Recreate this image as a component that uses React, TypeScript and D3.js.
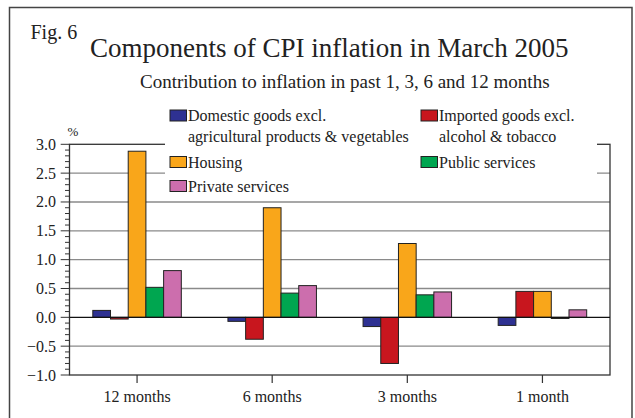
import React from "react";
import * as d3 from "d3";

const categories = ["12 months", "6 months", "3 months", "1 month"];
const seriesNames = [
  "Domestic goods excl. agricultural products & vegetables",
  "Imported goods excl. alcohol & tobacco",
  "Housing",
  "Public services",
  "Private services",
];
const domestic = [0.12, -0.07, -0.16, -0.14];
const imported = [-0.03, -0.38, -0.8, 0.45];
const housing = [2.88, 1.9, 1.28, 0.45];
const publicServices = [0.52, 0.42, 0.39, -0.02];
const privateServices = [0.81, 0.55, 0.44, 0.13];
const seriesColors = ["#2e3192", "#c8161e", "#f9a61a", "#00a650", "#cc6ead"];
const yTicks = [-1.0, -0.5, 0.0, 0.5, 1.0, 1.5, 2.0, 2.5, 3.0];

const series = [domestic, imported, housing, publicServices, privateServices];

const FONT = "'Liberation Serif', 'Times New Roman', serif";

export default function App() {
  const W = 635, H = 418;
  const left = 69.5, right = 610, top = 144.3, bottom = 375;
  const x = d3.scaleBand<string>().domain(categories).range([left, right]).padding(0);
  const y = d3.scaleLinear().domain([-1, 3]).range([bottom, top]);
  const inner = d3
    .scaleBand<number>()
    .domain(d3.range(series.length))
    .range([0, x.bandwidth() * 0.655]);
  const groupOffset = (x.bandwidth() - x.bandwidth() * 0.655) / 2;
  const minorTicks = d3.range(-10, 31).map((v) => v / 10);

  const legendItems = [
    { i: 0, sx: 170, ty: 121, lines: ["Domestic goods excl.", "agricultural products & vegetables"] },
    { i: 1, sx: 421, ty: 121, lines: ["Imported goods excl.", "alcohol & tobacco"] },
    { i: 2, sx: 170, ty: 167.5, lines: ["Housing"] },
    { i: 3, sx: 421, ty: 167.5, lines: ["Public services"] },
    { i: 4, sx: 170, ty: 191.5, lines: ["Private services"] },
  ];

  return (
    <svg width={W} height={H} style={{ position: "absolute", left: 0, top: 0, background: "#fff" }} fontFamily={FONT}>
      <rect x={0} y={0} width={W} height={H} fill="#fff" />
      {/* outer frame */}
      <path d={`M9.5,${H + 5} V7.5 H632 V${H + 5}`} fill="none" stroke="#444" strokeWidth={1.5} />
      <text x={30.5} y={39} fontSize={20} fill="#222">Fig. 6</text>
      <text x={90} y={57} fontSize={27} fill="#222">Components of CPI inflation in March 2005</text>
      <text x={140} y={87.5} fontSize={19} fill="#222">Contribution to inflation in past 1, 3, 6 and 12 months</text>

      {/* gridlines */}
      {yTicks.filter((t) => t !== 0 && t !== -1 && t !== 3).map((t) => (
        <line key={t} x1={left} x2={right} y1={y(t)} y2={y(t)} stroke="#8a8a8a" strokeWidth={1.3} />
      ))}
      {/* plot border */}
      <rect x={left} y={top} width={right - left} height={bottom - top} fill="none" stroke="#333" strokeWidth={1.3} />

      {/* legend background */}
      <rect x={165} y={100} width={597 - 165} height={96} fill="#fff" />

      {/* bars */}
      {categories.map((c, ci) => (
        <g key={c}>
          {series.map((s, si) => {
            const v = s[ci];
            const bx = (x(c) as number) + groupOffset + (inner(si) as number);
            const y0 = y(0), y1 = y(v);
            return (
              <rect
                key={si}
                x={bx}
                y={Math.min(y0, y1)}
                width={inner.bandwidth()}
                height={Math.max(Math.abs(y1 - y0), 1)}
                fill={seriesColors[si]}
                stroke="#222"
                strokeWidth={1}
              />
            );
          })}
        </g>
      ))}
      {/* zero line */}
      <line x1={left} x2={right} y1={y(0)} y2={y(0)} stroke="#111" strokeWidth={1.3} />

      {/* y axis ticks */}
      {minorTicks.map((t) => {
        const major = Math.abs(t * 2 - Math.round(t * 2)) < 1e-6;
        return (
          <line key={t} x1={major ? 60.7 : 65} x2={left} y1={y(t)} y2={y(t)} stroke="#333" strokeWidth={1} />
        );
      })}
      {yTicks.map((t) => (
        <text key={t} x={56} y={y(t) + 5.5} fontSize={16} textAnchor="end" fill="#222">
          {d3.format(".1f")(t)}
        </text>
      ))}
      <text x={73} y={135.5} fontSize={13} textAnchor="middle" fill="#222">%</text>

      {/* x axis ticks */}
      {categories.map((c) => {
        const cx = (x(c) as number) + x.bandwidth() / 2;
        return (
          <g key={c}>
            <line x1={cx} x2={cx} y1={bottom} y2={bottom + 8} stroke="#333" strokeWidth={1.2} />
            <text x={cx} y={402} fontSize={16} textAnchor="middle" fill="#222">{c}</text>
          </g>
        );
      })}

      {/* legend */}
      {legendItems.map((it) => (
        <g key={it.i}>
          <rect x={it.sx} y={it.ty - 11} width={16.5} height={11} fill={seriesColors[it.i]} stroke="#222" strokeWidth={1} />
          {it.lines.map((ln, li) => (
            <text key={li} x={it.sx + 18} y={it.ty + li * 20.7} fontSize={16} fill="#222">{ln}</text>
          ))}
        </g>
      ))}
    </svg>
  );
}
